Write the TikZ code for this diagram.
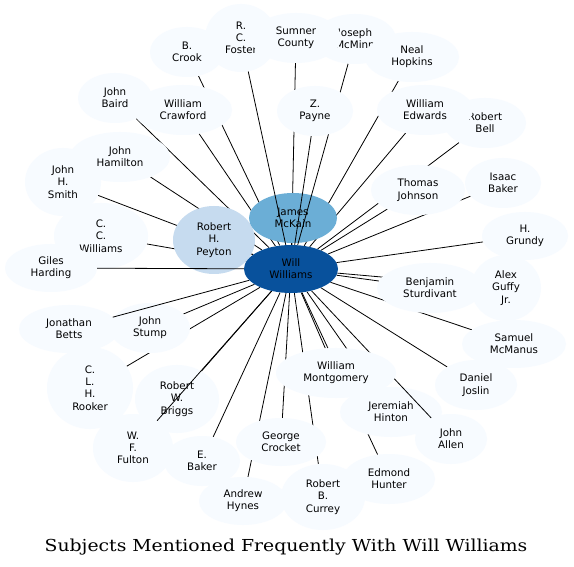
\documentclass[tikz,border=0pt]{standalone}
\usepackage{fontspec}
\usetikzlibrary{shapes.geometric}
\newfontfamily\nodefont{DejaVu Sans}
\newfontfamily\titlefont{DejaVu Serif}
\definecolor{bluea}{HTML}{F7FBFF}
\definecolor{blueb}{HTML}{C6DBEF}
\definecolor{bluec}{HTML}{6BAED6}
\definecolor{blued}{HTML}{08519C}
\tikzset{
  ghostnd/.style={ellipse, inner sep=0pt, draw=none},
  basend/.style={ellipse, inner sep=0pt, align=center, text=black,
    font=\nodefont\fontsize{10.3}{12.3}\selectfont},
  pale/.style={basend, fill=bluea},
  mid/.style={basend, fill=blueb},
  deep/.style={basend, fill=bluec},
  hub/.style={basend, fill=blued},
  link/.style={draw=black, line width=0.8pt}
}
\makeatletter
\newcommand\gnode[7]{%
  \expandafter\gdef\csname gn@#2\endcsname{\node[#1, minimum width=#5pt*2, minimum height=#6pt*2] (#2-v) at (#3,#4) {#7};}%
  \path (#3,#4) node[ghostnd, minimum width=#5pt*2, minimum height=#6pt*2] (#2) {};%
}
\newcommand\shownd[1]{\csname gn@#1\endcsname}
\makeatother
\begin{document}
\begin{tikzpicture}[x=1pt, y=-1pt]
\useasboundingbox (0,0) rectangle (574,567);
\fill[white] (0,0) rectangle (574,567);
% ghost shapes (names for connectors)
\gnode{hub}{ww}{291}{269}{47}{24}{Will\\Williams}
\gnode{deep}{james}{293}{218}{44}{25}{James\\McKain}
\gnode{mid}{peyton}{214}{240}{41}{34}{Robert\\H.\\Peyton}
\gnode{pale}{crook}{187}{52}{37}{25}{B.\\Crook}
\gnode{pale}{foster}{241}{38}{36}{34}{R.\\C.\\Foster}
\gnode{pale}{sumner}{296}{38}{45}{25}{Sumner\\County}
\gnode{pale}{mcminn}{355}{39}{41}{25}{Joseph\\McMinn}
\gnode{pale}{hopkins}{412}{57}{47}{25}{Neal\\Hopkins}
\gnode{pale}{crawford}{183}{110}{49}{25}{William\\Crawford}
\gnode{pale}{payne}{315}{111}{38}{25}{Z.\\Payne}
\gnode{pale}{edwards}{425}{110}{48}{25}{William\\Edwards}
\gnode{pale}{bell}{485}{123}{41}{25}{Robert\\Bell}
\gnode{pale}{baird}{115}{98}{37}{25}{John\\Baird}
\gnode{pale}{hamilton}{120}{157}{50}{25}{John\\Hamilton}
\gnode{pale}{smith}{63}{182}{38}{34}{John\\H.\\Smith}
\gnode{pale}{ccw}{101}{236}{47}{33}{C.\\C.\\Williams}
\gnode{pale}{giles}{51}{268}{46}{24}{Giles\\Harding}
\gnode{pale}{johnson}{418}{190}{47}{25}{Thomas\\Johnson}
\gnode{pale}{ibaker}{503}{183}{38}{25}{Isaac\\Baker}
\gnode{pale}{grundy}{525}{236}{43}{24}{H.\\Grundy}
\gnode{pale}{sturdivant}{430}{288}{53}{25}{Benjamin\\Sturdivant}
\gnode{pale}{guffy}{506}{288}{35}{33}{Alex\\Guffy\\Jr.}
\gnode{pale}{mcmanus}{514}{344}{52}{24}{Samuel\\McManus}
\gnode{pale}{joslin}{476}{385}{41}{25}{Daniel\\Joslin}
\gnode{pale}{montgomery}{336}{373}{60}{25}{William\\Montgomery}
\gnode{pale}{jeremiah}{391}{412}{51}{25}{Jeremiah\\Hinton}
\gnode{pale}{allen}{451}{439}{36}{25}{John\\Allen}
\gnode{pale}{hunter}{389}{479}{46}{25}{Edmond\\Hunter}
\gnode{pale}{currey}{323}{497}{42}{33}{Robert\\B.\\Currey}
\gnode{pale}{crocket}{281}{442}{45}{24}{George\\Crocket}
\gnode{pale}{hynes}{243}{501}{44}{24}{Andrew\\Hynes}
\gnode{pale}{ebaker}{202}{461}{38}{25}{E.\\Baker}
\gnode{pale}{fulton}{133}{448}{40}{34}{W.\\F.\\Fulton}
\gnode{pale}{briggs}{177}{399}{42}{34}{Robert\\W.\\Briggs}
\gnode{pale}{rooker}{90}{388}{43}{41}{C.\\L.\\H.\\Rooker}
\gnode{pale}{stump}{150}{328}{40}{25}{John\\Stump}
\gnode{pale}{betts}{69}{329}{50}{24}{Jonathan\\Betts}
% connectors hidden beneath nodes
\foreach \n in {crook,crawford,sumner,hamilton,smith,ccw,baird,hopkins,bell,
  ibaker,guffy,rooker,hunter,currey,jeremiah,montgomery,crocket,hynes,edwards,
  johnson,sturdivant,stump,grundy,mcmanus,joslin,ebaker,briggs,peyton,james}
  {\draw[link] (\n) -- (ww);}
% nodes
\shownd{crook}\shownd{foster}\shownd{mcminn}\shownd{sumner}\shownd{hopkins}
\shownd{bell}\shownd{edwards}\shownd{crawford}\shownd{baird}\shownd{hamilton}
\shownd{smith}\shownd{ccw}\shownd{giles}\shownd{johnson}\shownd{ibaker}
\shownd{grundy}\shownd{sturdivant}\shownd{guffy}\shownd{mcmanus}\shownd{joslin}
\shownd{jeremiah}\shownd{allen}\shownd{hunter}\shownd{currey}\shownd{crocket}
\shownd{hynes}\shownd{ebaker}\shownd{fulton}\shownd{briggs}\shownd{rooker}
\shownd{stump}\shownd{betts}\shownd{peyton}\shownd{james}
% connectors drawn over nodes
\draw[link] (foster) -- (ww);
\draw[link] (mcminn) -- (ww);
\shownd{payne}
\draw[link] (payne) -- (ww);
\draw[link] (giles) -- (ww);
\draw[link] (fulton) -- (ww);
\draw[link] (betts) -- (ww);
\draw[link] (allen) -- (ww);
\shownd{montgomery}
\shownd{ww}
% title
\node[anchor=base, font=\titlefont\fontsize{16.5}{19}\selectfont] (title) at (286,551)
  {\scalebox{1.14}[1]{Subjects Mentioned Frequently With Will Williams}};
\end{tikzpicture}
\end{document}
